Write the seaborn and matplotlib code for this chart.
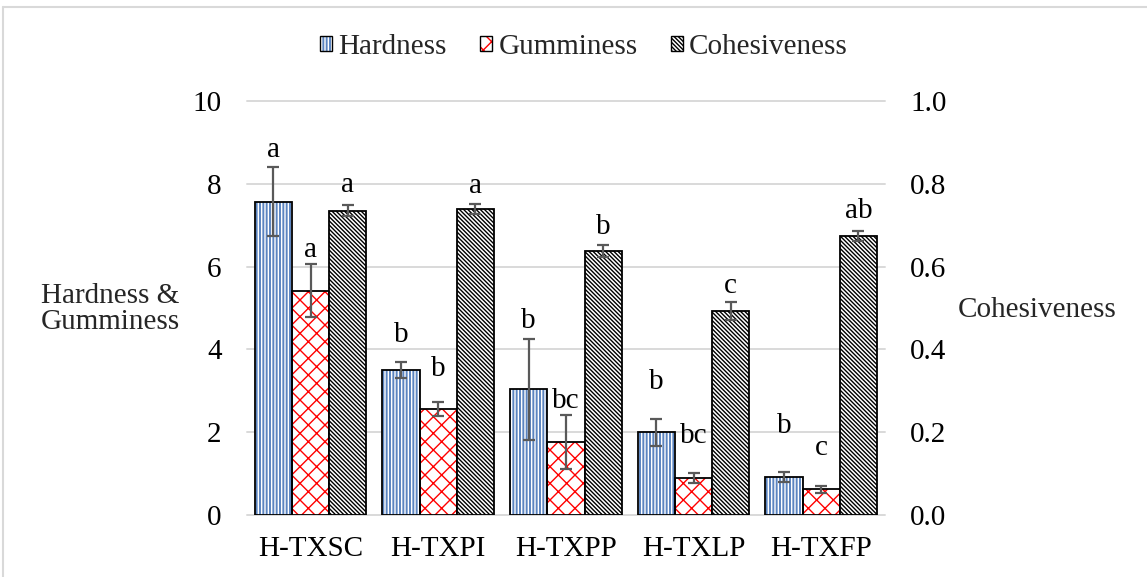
import matplotlib
matplotlib.use("Agg")
import matplotlib.pyplot as plt
from matplotlib.patches import Patch, Rectangle
from matplotlib.lines import Line2D
from matplotlib.ticker import FormatStrFormatter
import pandas as pd
import seaborn as sns

# ---- data -------------------------------------------------------------
samples = ["H-TXSC", "H-TXPI", "H-TXPP", "H-TXLP", "H-TXFP"]
measures = ["Hardness", "Gumminess", "Cohesiveness"]

hardness = [7.57, 3.50, 3.04, 2.00, 0.91]
hardness_sd = [0.83, 0.20, 1.22, 0.33, 0.12]
gumminess = [5.42, 2.55, 1.76, 0.89, 0.62]
gumminess_sd = [0.64, 0.17, 0.65, 0.12, 0.085]
cohesiveness = [0.735, 0.739, 0.638, 0.493, 0.674]
cohesiveness_sd = [0.013, 0.012, 0.014, 0.022, 0.012]

hardness_letters = ["a", "b", "b", "b", "b"]
gumminess_letters = ["a", "b", "bc", "bc", "c"]
cohesiveness_letters = ["a", "a", "b", "c", "ab"]

# ---- long table -------------------------------------------------------
rows = []
for m, vals, sds, lets in [
    ("Hardness", hardness, hardness_sd, hardness_letters),
    ("Gumminess", gumminess, gumminess_sd, gumminess_letters),
    ("Cohesiveness", cohesiveness, cohesiveness_sd, cohesiveness_letters),
]:
    for s, v, e, l in zip(samples, vals, sds, lets):
        rows.append({"sample": s, "measure": m, "value": v, "sd": e, "letter": l})
df = pd.DataFrame(rows).set_index(["measure", "sample"])

# ---- style ------------------------------------------------------------
sns.set_theme(style="white")
plt.rcParams["font.family"] = ["Liberation Serif", "DejaVu Serif"]
plt.rcParams["hatch.linewidth"] = 1.0
FS = 21

fill = {"Hardness": "#5b84c0", "Gumminess": "white", "Cohesiveness": "white"}
hatch_color = {"Hardness": "white", "Gumminess": "#ff0000", "Cohesiveness": "black"}
hatch = {"Hardness": "|||||", "Gumminess": "xx", "Cohesiveness": "\\" * 8}
# gap (pixels) between the top of each error bar and its letter
letter_gap = {
    "Hardness": [10, 20, 11, 30, 39],
    "Gumminess": [7, 26, 7, 30, 31],
    "Cohesiveness": [13, 11, 11, 9, 13],
}

fig = plt.figure(figsize=(11.47, 5.77), dpi=100)
ax1 = fig.add_axes([0.2151, 0.1075, 0.5565, 0.7175])
ax2 = ax1.twinx()

flat = df.reset_index()
primary = flat[flat["measure"] != "Cohesiveness"]
secondary = flat[flat["measure"] == "Cohesiveness"]

BAR_GROUP_WIDTH = 0.876
common = dict(x="sample", y="value", hue="measure", hue_order=measures,
              order=samples, width=BAR_GROUP_WIDTH, dodge=True, errorbar=None,
              legend=False, palette=fill, saturation=1)
sns.barplot(data=primary, ax=ax1, **common)
sns.barplot(data=secondary, ax=ax2, **common)

# ---- style bars, add error bars and letters ---------------------------
slot = BAR_GROUP_WIDTH / len(measures)
for ax in (ax1, ax2):
    for p in list(ax.patches):
        if p.get_height() <= 0:
            continue
        xc = p.get_x() + p.get_width() / 2
        i = int(round(xc))
        m = measures[int(round((xc - i) / slot)) + 1]
        s = samples[i]
        p.set_facecolor(fill[m])
        p.set_hatch(hatch[m])
        p.set_edgecolor(hatch_color[m])
        p.set_linewidth(0)
        ax.add_patch(Rectangle(p.get_xy(), p.get_width(), p.get_height(),
                               fill=False, edgecolor="black", lw=1.3,
                               zorder=p.get_zorder() + 0.1))
        v, e, letter = df.loc[(m, s), ["value", "sd", "letter"]]
        ax.errorbar(xc, v, yerr=e, fmt="none", ecolor="#595959",
                    elinewidth=1.6, capsize=4.3, capthick=1.6, zorder=5)
        ax.annotate(letter, (xc, v + e),
                    xytext=(0, letter_gap[m][i] * 0.72), textcoords="offset points",
                    ha="center", va="baseline", fontsize=FS, color="black")

# ---- axes -------------------------------------------------------------
ax1.set_xlim(-0.5, 4.5)
ax1.set_ylim(0, 10)
ax1.set_yticks(range(0, 11, 2))
ax2.set_ylim(0, 1.0)
ax2.set_yticks([0, 0.2, 0.4, 0.6, 0.8, 1.0])
ax2.yaxis.set_major_formatter(FormatStrFormatter("%.1f"))

ax1.set_axisbelow(True)
ax1.yaxis.grid(True, color="#d9d9d9", lw=1.4)
ax1.xaxis.grid(False)
ax2.grid(False)
for gl in ax1.get_ygridlines():
    gl.set_clip_on(False)
for ax in (ax1, ax2):
    for sp in ax.spines.values():
        sp.set_visible(False)
    ax.set_xlabel("")
    ax.set_ylabel("")
ax2.patch.set_visible(False)

ax1.tick_params(axis="y", length=0, pad=18, labelsize=FS, colors="black")
ax2.tick_params(axis="y", length=0, pad=18, labelsize=FS, colors="black")
ax1.tick_params(axis="x", length=0, pad=15, labelsize=FS, colors="black")
ax2.tick_params(axis="x", length=0, labelbottom=False)

fig.text(41 / 1147, 1 - 309 / 577, "Hardness &\nGumminess", ha="left",
         va="center", fontsize=FS, linespacing=1.0)
fig.text(958 / 1147, 1 - 310 / 577, "Cohesiveness", ha="left",
         va="center", fontsize=FS)

# ---- legend -----------------------------------------------------------
handles = []
for m in measures:
    handles.append((Patch(facecolor=fill[m], edgecolor=hatch_color[m],
                          hatch=hatch[m], lw=0),
                    Patch(facecolor="none", edgecolor="black", lw=1.0)))
fig.legend(handles, measures, loc="center", bbox_to_anchor=(584 / 1147, 1 - 47 / 577),
           ncol=3, frameon=False, fontsize=FS, handlelength=0.42,
           handleheight=0.42, handletextpad=0.2, columnspacing=1.15)

# chart-area frame (top and left edges)
fig.add_artist(Line2D([3.3 / 1147, 3.3 / 1147], [0, 1 - 6.7 / 577],
                      color="#d9d9d9", lw=1.5))
fig.add_artist(Line2D([3.3 / 1147, 1], [1 - 6.7 / 577, 1 - 6.7 / 577],
                      color="#d9d9d9", lw=1.5))

fig.savefig("out.png", dpi=100)
